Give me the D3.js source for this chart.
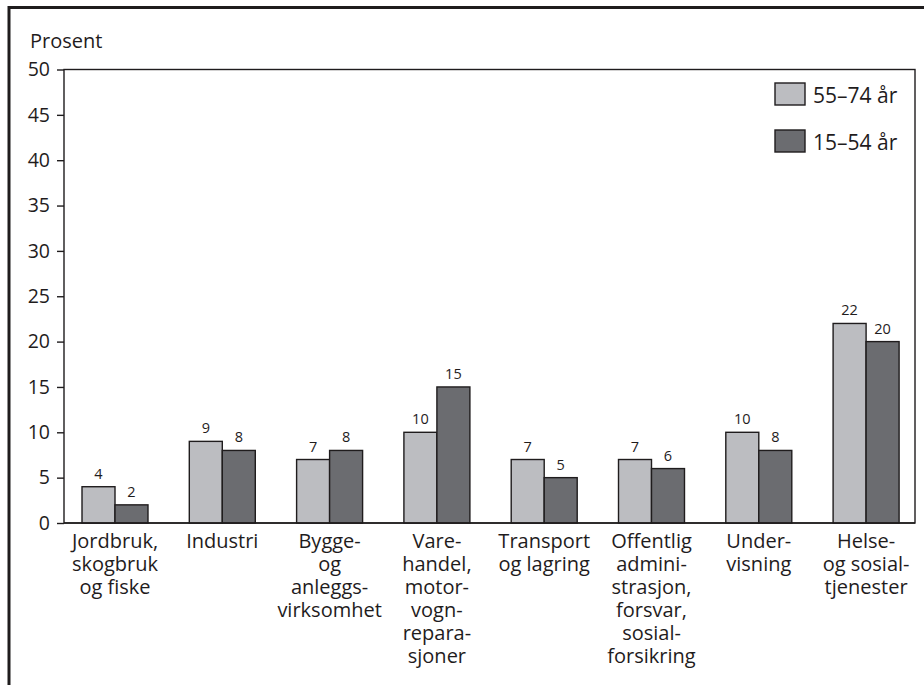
<!DOCTYPE html>
<html><head><meta charset="utf-8">
<script src="https://cdn.jsdelivr.net/npm/d3@7"></script>
<style>
html,body{margin:0;padding:0;background:#fff;}
svg{display:block;font-family:"Open Sans",sans-serif;}
</style></head>
<body>
<svg id="c" width="924" height="685"></svg>
<script>
const categories = [
  "Jordbruk,\nskogbruk\nog fiske",
  "Industri",
  "Bygge-\nog\nanleggs-\nvirksomhet",
  "Vare-\nhandel,\nmotor-\nvogn-\nrepara-\nsjoner",
  "Transport\nog lagring",
  "Offentlig\nadmini-\nstrasjon,\nforsvar,\nsosial-\nforsikring",
  "Under-\nvisning",
  "Helse-\nog sosial-\ntjenester"
];
const seriesNames = ["55–74 år", "15–54 år"];
const valuesOld = [4, 9, 7, 10, 7, 7, 10, 22];
const valuesYoung = [2, 8, 8, 15, 5, 6, 8, 20];
const yTicks = [0, 5, 10, 15, 20, 25, 30, 35, 40, 45, 50];
const yLabel = "Prosent";
const colors = ["#bcbdc1", "#6b6c70"];
const ink = "#1f1c1d";

const svg = d3.select("#c");

// outer frame (left and top edges)
svg.append("path").attr("d", "M9,685 V7.5 H924")
  .attr("fill", "none").attr("stroke", ink).attr("stroke-width", 3);

const plot = {left: 64, right: 915, top: 69.5, bottom: 523};

const y = d3.scaleLinear().domain([0, 50]).range([plot.bottom, plot.top]);
const x0 = d3.scaleBand().domain(categories.map((d, i) => i))
  .range([61.35, 919.75]).paddingInner(0.385).paddingOuter(0.1925);
const x1 = d3.scaleBand().domain([0, 1]).range([0, x0.bandwidth()]);

// plot box
svg.append("rect").attr("x", plot.left).attr("y", plot.top)
  .attr("width", plot.right - plot.left).attr("height", plot.bottom - plot.top)
  .attr("fill", "none").attr("stroke", ink).attr("stroke-width", 1.4);

// y axis
const yAxis = svg.append("g").attr("transform", `translate(${plot.left},0)`)
  .call(d3.axisLeft(y).tickValues(yTicks).tickSize(7).tickPadding(7));
yAxis.select(".domain").remove();
yAxis.selectAll(".tick line").attr("stroke", ink).attr("stroke-width", 1.4);
yAxis.selectAll(".tick text").attr("fill", ink)
  .style("font-size", "19.5px").style("font-family", "'Open Sans',sans-serif");

svg.append("text").attr("x", 30).attr("y", 48).text(yLabel)
  .attr("fill", ink).style("font-size", "20px");

// bars
const data = categories.map((c, i) => [valuesOld[i], valuesYoung[i]]);
const groups = svg.append("g").selectAll("g").data(data).join("g")
  .attr("transform", (d, i) => `translate(${x0(i)},0)`);
groups.selectAll("rect").data(d => d.map((v, s) => ({v, s}))).join("rect")
  .attr("x", d => x1(d.s)).attr("width", x1.bandwidth())
  .attr("y", d => y(d.v)).attr("height", d => y(0) - y(d.v))
  .attr("fill", d => colors[d.s]).attr("stroke", ink).attr("stroke-width", 1.4);
groups.selectAll("text").data(d => d.map((v, s) => ({v, s}))).join("text")
  .attr("x", d => x1(d.s) + x1.bandwidth() / 2).attr("y", d => y(d.v) - 8)
  .attr("text-anchor", "middle").attr("fill", ink).style("font-size", "14.5px")
  .text(d => d.v);

// redraw baseline over bars
svg.append("line").attr("x1", plot.left).attr("x2", plot.right)
  .attr("y1", plot.bottom).attr("y2", plot.bottom)
  .attr("stroke", ink).attr("stroke-width", 1.4);

// x axis category labels
const xAxis = svg.append("g").attr("transform", `translate(0,${plot.bottom})`)
  .call(d3.axisBottom(x0).tickSize(0).tickFormat(""));
xAxis.select(".domain").remove();
xAxis.selectAll(".tick").each(function(d) {
  const t = d3.select(this).append("text").attr("fill", ink)
    .attr("text-anchor", "middle").style("font-size", "20px")
    .style("font-family", "'Open Sans',sans-serif");
  categories[d].split("\n").forEach((line, k) => {
    t.append("tspan").attr("x", 0).attr("y", 25 + k * 23).text(line);
  });
});

// legend
const leg = svg.append("g");
seriesNames.forEach((name, i) => {
  const gy = 83 + i * 47;
  leg.append("rect").attr("x", 775).attr("y", gy).attr("width", 30).attr("height", 22)
    .attr("fill", colors[i]).attr("stroke", ink).attr("stroke-width", 1.4);
  leg.append("text").attr("x", 813).attr("y", gy + 20).text(name)
    .attr("fill", ink).style("font-size", "21px");
});
</script>
</body></html>
